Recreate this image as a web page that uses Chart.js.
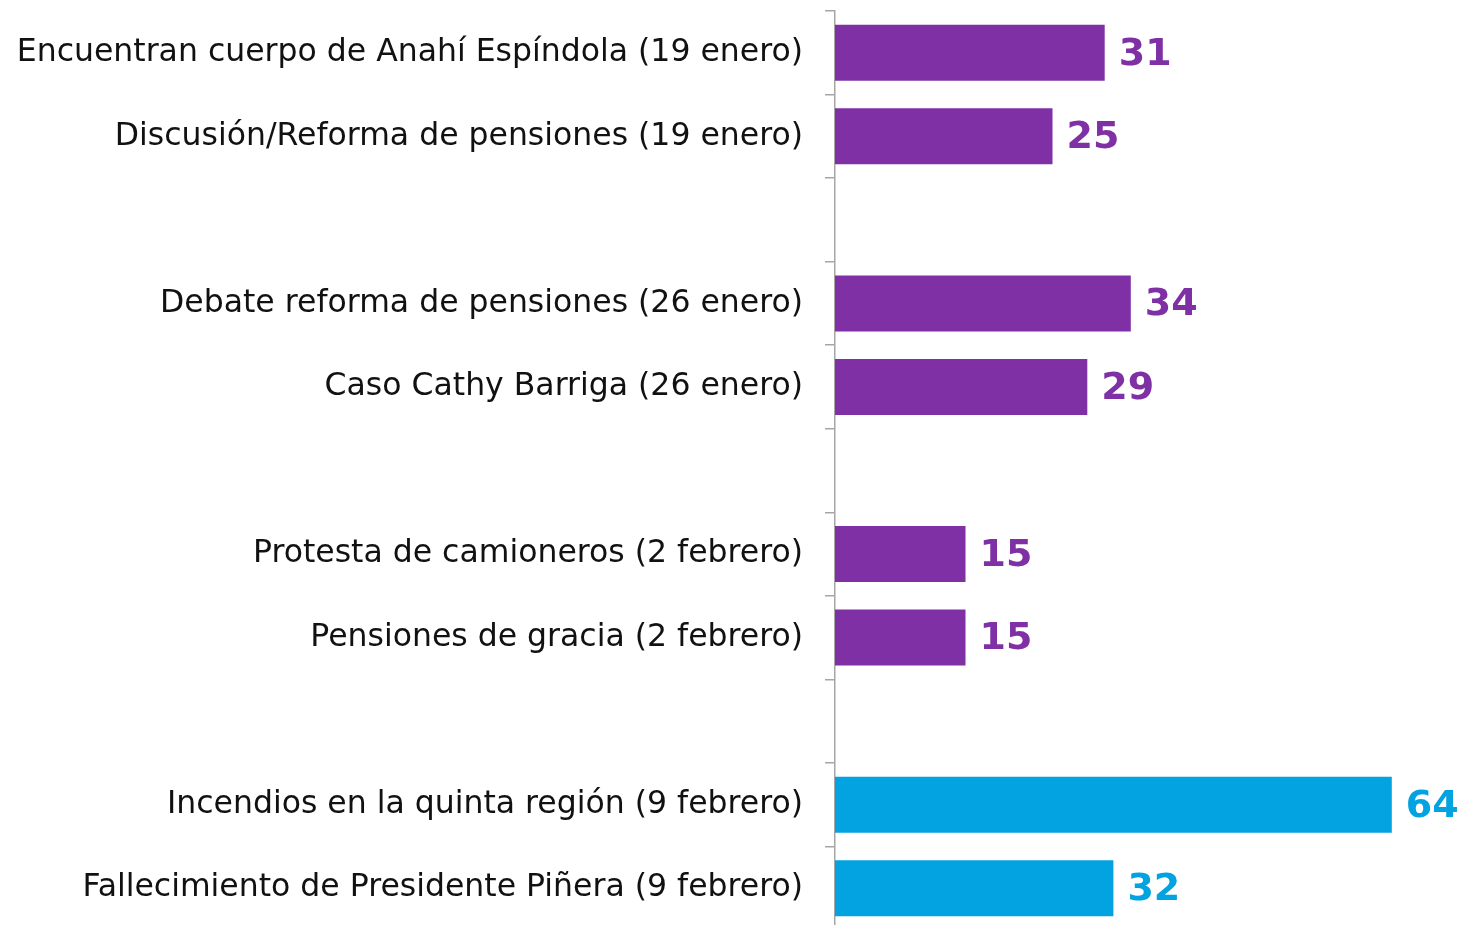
<!DOCTYPE html>
<html>
<head>
<meta charset="utf-8">
<script src="https://cdn.jsdelivr.net/npm/chart.js@4.4.1/dist/chart.umd.min.js"></script>
<style>
   html, body { margin: 0; padding: 0; background: #fff; overflow: hidden; }
   #wrap { width: 1471px; height: 930px; position: relative; }
</style>
</head>
<body>
<div id="wrap"><canvas id="chart"></canvas></div>
<script>
// categories (empty strings are the gaps between weeks)
const temas = [
   'Encuentran cuerpo de Anahí Espíndola (19 enero)',
   'Discusión/Reforma de pensiones (19 enero)',
   '',
   'Debate reforma de pensiones (26 enero)',
   'Caso Cathy Barriga (26 enero)',
   '',
   'Protesta de camioneros (2 febrero)',
   'Pensiones de gracia (2 febrero)',
   '',
   'Incendios en la quinta región (9 febrero)',
   'Fallecimiento de Presidente Piñera (9 febrero)'
];

// values (%)
const menciones = [31, 25, null, 34, 29, null, 15, 15, null, 64, 32];

// last week is highlighted
const ultimaSemana = [false, false, false, false, false, false, false, false, false, true, true];

const PURPLE = '#7f30a5';
const BLUE   = '#03a2e0';
const FONT   = '"DejaVu Sans", sans-serif';

// draws the value at the end of each bar
const valueLabels = {
   id: 'valueLabels',
   afterDatasetsDraw(chart) {
      const ctx = chart.ctx;
      const meta = chart.getDatasetMeta(0);
      ctx.save();
      ctx.font = 'bold 38px ' + FONT;
      ctx.textAlign = 'left';
      ctx.textBaseline = 'middle';
      meta.data.forEach(function(bar, i) {
         const v = menciones[i];
         if(v === null || v === undefined) return;
         ctx.fillStyle = ultimaSemana[i] ? BLUE : PURPLE;
         ctx.fillText(String(v), bar.x + 14, bar.y + 2);
      });
      ctx.restore();
   }
};

new Chart(document.getElementById('chart'), {
   type: 'bar',
   data: {
      labels: temas,
      datasets: [{
         data: menciones,
         backgroundColor: function(c) { return ultimaSemana[c.dataIndex] ? BLUE : PURPLE; },
         barPercentage: 0.67,
         categoryPercentage: 1
      }]
   },
   options: {
      indexAxis: 'y',
      responsive: true,
      maintainAspectRatio: false,
      animation: false,
      layout: {
         padding: { top: 11, right: 27, bottom: 0, left: 0 }
      },
      plugins: {
         legend: { display: false },
         tooltip: { enabled: false }
      },
      scales: {
         x: {
            display: false,
            min: 0,
            max: 70
         },
         y: {
            afterFit: function(scale) {
               scale.width = 835;
               scale.paddingTop = 0;
               scale.paddingBottom = 0;
            },
            grid: {
               offset: true,
               drawOnChartArea: false,
               drawTicks: true,
               tickLength: 10,
               color: '#a6a6a6',
               lineWidth: 1.5
            },
            border: { display: true, color: '#a6a6a6', width: 1.5 },
            ticks: {
               color: '#111',
               padding: 22,
               font: { family: FONT, size: 31.5 }
            }
         }
      }
   },
   plugins: [valueLabels]
});
</script>
</body>
</html>
